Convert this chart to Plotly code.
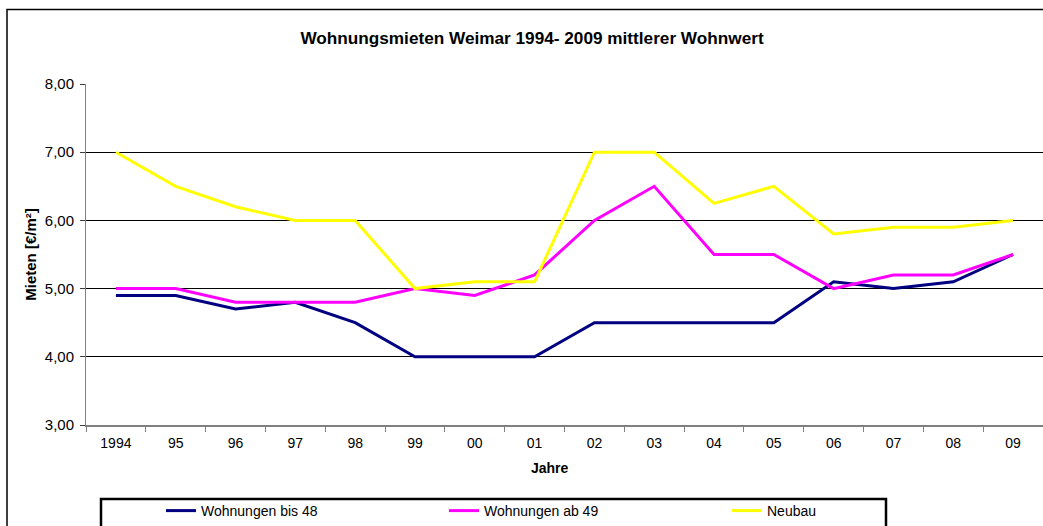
import plotly.graph_objects as go

years = ["1994", "95", "96", "97", "98", "99", "00", "01", "02", "03", "04", "05", "06", "07", "08", "09"]
bis48 = [4.9, 4.9, 4.7, 4.8, 4.5, 4.0, 4.0, 4.0, 4.5, 4.5, 4.5, 4.5, 5.1, 5.0, 5.1, 5.5]
ab49 = [5.0, 5.0, 4.8, 4.8, 4.8, 5.0, 4.9, 5.2, 6.0, 6.5, 5.5, 5.5, 5.0, 5.2, 5.2, 5.5]
neubau = [7.0, 6.5, 6.2, 6.0, 6.0, 5.0, 5.1, 5.1, 7.0, 7.0, 6.25, 6.5, 5.8, 5.9, 5.9, 6.0]
y_ticks = [3, 4, 5, 6, 7, 8]

W, H = 1043, 526
# plot area in page coordinates: x 86..1043, y 84..425
L, R, T = 86, 0, 84
B = H - 425
pw, ph = W - L - R, H - T - B

def px(x):  # page x -> paper
    return (x - L) / pw

def py(y):  # page y -> paper
    return (H - B - y) / ph

FONT = "Liberation Sans, Arial, sans-serif"

fig = go.Figure()
fig.add_trace(go.Scatter(x=years, y=bis48, mode="lines", name="Wohnungen bis 48",
                         line=dict(color="#000080", width=3)))
fig.add_trace(go.Scatter(x=years, y=ab49, mode="lines", name="Wohnungen ab 49",
                         line=dict(color="#FF00FF", width=3)))
fig.add_trace(go.Scatter(x=years, y=neubau, mode="lines", name="Neubau",
                         line=dict(color="#FFFF00", width=3)))

fig.update_layout(
    width=W, height=H,
    margin=dict(l=L, r=R, t=T, b=B, autoexpand=False),
    paper_bgcolor="white", plot_bgcolor="white",
    separators=",.",
    font=dict(family=FONT, size=13, color="black"),
    title=dict(text="Wohnungsmieten Weimar 1994- 2009 mittlerer Wohnwert",
               x=532 / W, xanchor="center", y=1 - 38 / H, yanchor="middle",
               font=dict(family=FONT, size=17.2, color="black", weight="bold")),
    xaxis=dict(type="category", range=[-0.5, 15.5], tickson="boundaries",
               ticks="outside", ticklen=5, tickcolor="#808080", tickwidth=1,
               showline=True, linecolor="#808080", linewidth=2,
               showgrid=False, tickfont=dict(size=14), automargin=False,
               ticklabelstandoff=4),
    yaxis=dict(range=[3, 8], tickvals=y_ticks, tickformat=".2f",
               ticks="outside", ticklen=5, tickcolor="#404040",
               showline=True, linecolor="#808080", linewidth=1,
               showgrid=True, gridcolor="black", gridwidth=1, zeroline=False,
               tickfont=dict(size=15), automargin=False, ticklabelstandoff=3,
               title=dict(text="Mieten [€/m²]", font=dict(size=15, weight="bold"), standoff=4)),
    legend=dict(orientation="h", x=px(161), xanchor="left", y=py(511), yanchor="middle",
                entrywidth=238, entrywidthmode="pixels", bgcolor="rgba(0,0,0,0)",
                borderwidth=0, font=dict(size=14), itemclick=False),
    annotations=[
        dict(text="Jahre", xref="paper", yref="paper", x=px(550), y=py(468),
             xanchor="center", yanchor="middle", showarrow=False,
             font=dict(size=14, weight="bold", color="black")),
    ],
    shapes=[
        dict(type="rect", xref="paper", yref="paper",
             x0=px(7), x1=px(1080), y0=py(560), y1=py(9.5),
             line=dict(color="black", width=1.5), fillcolor="rgba(0,0,0,0)", layer="below"),
        dict(type="rect", xref="paper", yref="paper",
             x0=px(101), x1=px(886), y0=py(560), y1=py(499),
             line=dict(color="black", width=2.5), fillcolor="rgba(0,0,0,0)"),
    ],
)

fig.write_html(
    "out.html",
    config={"displayModeBar": False},
    post_script="document.body.style.margin='0';document.body.style.overflow='hidden';",
)
